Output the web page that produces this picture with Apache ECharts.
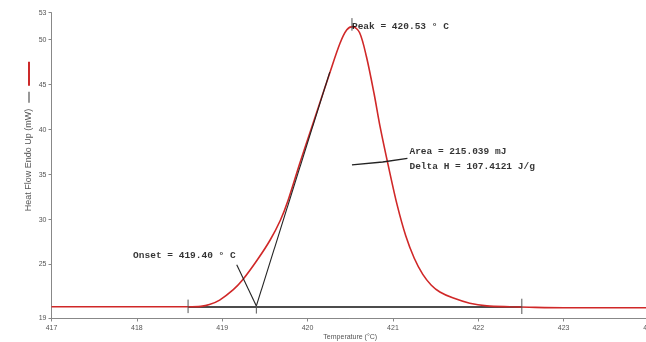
<!DOCTYPE html>
<html><head><meta charset="utf-8">
<script src="https://cdn.jsdelivr.net/npm/echarts@6/dist/echarts.min.js"></script>
<style>html,body{margin:0;padding:0;background:#fff}#c{width:646px;height:342px}</style>
</head><body><div id="c"></div>
<script>
// Measured DSC curve (temperature in °C, heat flow in mW)
const temperature = [417.0, 418.0, 418.6, 418.75, 418.85, 418.97, 419.13, 419.24, 419.41, 419.56, 419.68, 419.77, 419.91, 420.05, 420.26, 420.38, 420.46, 420.53, 420.61, 420.69, 420.78, 420.85, 420.95, 421.05, 421.15, 421.25, 421.35, 421.45, 421.55, 421.70, 421.90, 422.10, 422.37, 422.6, 423.0, 424.0];
const heatFlow    = [20.3, 20.3, 20.3, 20.35, 20.55, 21.05, 22.2, 23.3, 25.5, 27.7, 29.9, 32.1, 36.3, 40.3, 46.3, 49.6, 51.1, 51.45, 50.77, 48.1, 43.96, 40.3, 35.8, 31.6, 28.2, 25.7, 23.9, 22.7, 21.95, 21.3, 20.7, 20.4, 20.3, 20.25, 20.2, 20.2];

const xTicks = [417, 418, 419, 420, 421, 422, 423, 424];
const yTicks = [19, 25, 30, 35, 40, 45, 50, 53];

// Analysis construction lines [x, y] pairs
const baselineLine = [[418.60, 20.28], [422.51, 20.28]];
const tangentLine  = [[419.40, 20.40], [420.26, 46.40]];
const onsetPointer = [[419.17, 24.97], [419.40, 20.40]];
const areaPointer  = [[420.52, 36.07], [420.88, 36.40], [421.17, 36.80]];
const limitTicks   = [
  [[418.60, 21.10], [418.60, 19.60]],
  [[422.51, 21.20], [422.51, 19.50]],
  [[419.40, 20.40], [419.40, 19.55]],
  [[420.52, 52.40], [420.52, 51.00]]
];

// Annotation texts and anchors
const peakText  = 'Peak = 420.53 ° C';
const areaText  = 'Area = 215.039 mJ';
const deltaText = 'Delta H = 107.4121 J/g';
const onsetText = 'Onset = 419.40 ° C';
const peakAnchor  = [420.52, 51.5];
const areaAnchor  = [421.17, 36.7];
const onsetAnchor = [419.17, 25.95];

const curve = temperature.map((t, i) => [t, heatFlow[i]]);
const annoFont = {fontFamily: 'Liberation Mono', fontSize: 9.5, color: '#000', fontWeight: 'bold'};
const axisFont = {fontFamily: 'Liberation Sans Narrow, Liberation Sans, Arial', fontSize: 7, color: '#555'};

function lineSeries(data, color, width, z) {
  return {type: 'line', data, showSymbol: false, symbol: 'none', silent: true, z,
    lineStyle: {color, width}, animation: false};
}
function labelSeries(pt, text, pos, extra) {
  return {type: 'scatter', data: [pt], symbolSize: 0, silent: true, z: 10, animation: false,
    label: Object.assign({show: true, position: pos, distance: 1, formatter: text}, annoFont, extra || {})};
}

const chart = echarts.init(document.getElementById('c'), null, {renderer: 'canvas'});
chart.setOption({
  backgroundColor: '#fff',
  animation: false,
  grid: {left: 51.5, right: -3, top: 12.7, bottom: 23.5, outerBoundsMode: 'none', containLabel: false},
  xAxis: {
    type: 'value', min: 417, max: 424, interval: 1,
    name: 'Temperature (°C)', nameLocation: 'middle', nameGap: 15, nameMoveOverlap: false,
    nameTextStyle: Object.assign({}, axisFont, {fontSize: 7}),
    axisLine: {lineStyle: {color: '#888', width: 1}},
    axisTick: {show: true, length: 3, lineStyle: {color: '#888'}},
    axisLabel: Object.assign({margin: 6, customValues: xTicks, hideOverlap: false}, axisFont),
    splitLine: {show: false}
  },
  yAxis: {
    type: 'value', min: 19, max: 53,
    name: '{t|Heat Flow Endo Up (mW)}{g|}{k|}{g|}{r|}',
    nameLocation: 'middle', nameRotate: 90, nameGap: 18, nameMoveOverlap: false,
    nameTextStyle: {
      padding: [0, 0, 0, 58],
      rich: {
        t: Object.assign({}, axisFont, {fontSize: 9}),
        g: {width: 6, height: 1},
        k: {width: 11, height: 1, backgroundColor: '#333'},
        r: {width: 24, height: 2, backgroundColor: '#cc2a2a'}
      }
    },
    axisLine: {show: true, lineStyle: {color: '#888', width: 1}},
    axisTick: {show: true, length: 3, customValues: yTicks, lineStyle: {color: '#888'}},
    axisLabel: Object.assign({margin: 5, customValues: yTicks}, axisFont),
    splitLine: {show: false}
  },
  series: [
    lineSeries(baselineLine, '#111', 1.5, 2),
    Object.assign(lineSeries(curve, '#d02828', 1.6, 3), {smooth: 0.3}),
    lineSeries(tangentLine, '#222', 1.1, 4),
    lineSeries(onsetPointer, '#222', 1.1, 4),
    lineSeries(areaPointer, '#222', 1.3, 4),
    ...limitTicks.map(t => lineSeries(t, '#555', 1, 4)),
    labelSeries(peakAnchor, peakText, 'right', {distance: 0}),
    labelSeries(areaAnchor, areaText + '\n' + deltaText, 'right', {lineHeight: 15, distance: 2}),
    labelSeries(onsetAnchor, onsetText, 'left', {distance: 1})
  ]
});
</script></body></html>
